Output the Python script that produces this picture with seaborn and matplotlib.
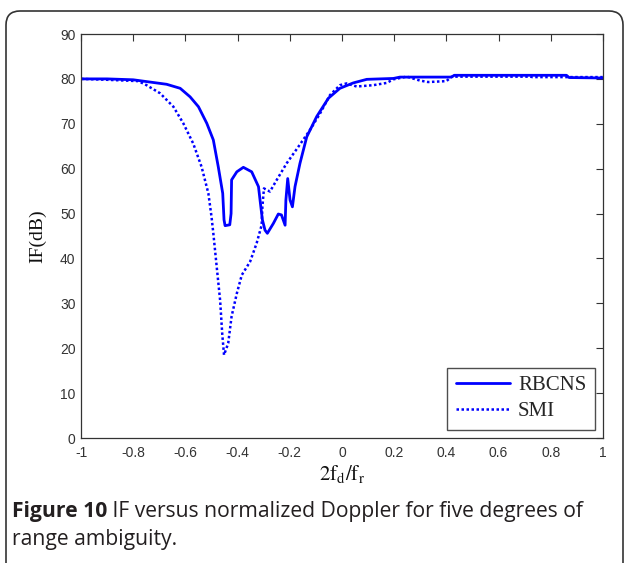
import numpy as np
import pandas as pd
import seaborn as sns
import matplotlib.pyplot as plt
from matplotlib.patches import FancyBboxPatch

sns.set_style("white")
plt.rcParams['font.family'] = ['Liberation Sans', 'DejaVu Sans']
plt.rcParams['mathtext.fontset'] = 'stix'

# RBCNS curve (solid)
rbcns_x = [-1.0, -0.9, -0.8, -0.749, -0.672, -0.62, -0.582, -0.55, -0.518,
           -0.493, -0.474, -0.457, -0.452, -0.448, -0.43, -0.425, -0.423,
           -0.403, -0.378, -0.346, -0.32, -0.314, -0.305, -0.295, -0.286,
           -0.263, -0.244, -0.232, -0.218, -0.215, -0.208, -0.199, -0.19,
           -0.18, -0.161, -0.135, -0.097, -0.052, -0.008, 0.043, 0.095,
           0.197, 0.222, 0.42, 0.43, 0.86, 0.87, 1.0]
rbcns_y = [80.0, 80.0, 79.8, 79.4, 78.8, 77.9, 76.0, 73.8, 70.1,
           66.4, 60.4, 54.5, 48.6, 47.3, 47.5, 50.0, 57.5,
           59.3, 60.3, 59.3, 56.0, 53.0, 48.6, 46.3, 45.6,
           47.8, 49.9, 49.7, 47.4, 53.0, 57.8, 53.0, 51.5,
           56.0, 61.2, 67.1, 71.6, 75.7, 77.9, 79.1, 79.9,
           80.1, 80.4, 80.4, 80.8, 80.8, 80.3, 80.2]

# SMI curve (dotted)
smi_x = [-1.0, -0.9, -0.78, -0.749, -0.697, -0.646, -0.608, -0.57, -0.538,
         -0.512, -0.5, -0.493, -0.48, -0.467, -0.459, -0.452, -0.436, -0.423,
         -0.403, -0.384, -0.352, -0.327, -0.308, -0.305, -0.299, -0.276,
         -0.25, -0.212, -0.167, -0.123, -0.084, -0.046, -0.008, 0.018, 0.056,
         0.12, 0.171, 0.197, 0.248, 0.30, 0.33, 0.40, 0.42, 0.72, 0.73, 1.0]
smi_y = [80.0, 79.8, 79.5, 78.6, 76.8, 73.8, 70.1, 65.6, 60.4,
         54.5, 49.3, 45.6, 38.1, 30.7, 23.3, 18.5, 21.1, 27.1,
         32.2, 36.3, 39.3, 43.4, 47.4, 51.5, 55.6, 54.9,
         57.5, 61.2, 64.9, 68.6, 72.3, 76.4, 78.6, 79.0, 78.3,
         78.6, 79.1, 79.9, 80.5, 79.6, 79.3, 79.5, 80.5, 80.5, 80.4, 80.4]

x_ticks = [-1, -0.8, -0.6, -0.4, -0.2, 0, 0.2, 0.4, 0.6, 0.8, 1]
x_tick_labels = ['-1', '-0.8', '-0.6', '-0.4', '-0.2', '0', '0.2', '0.4', '0.6', '0.8', '1']
y_ticks = list(range(0, 91, 10))

rbcns = pd.DataFrame({'x': rbcns_x, 'y': rbcns_y})
smi = pd.DataFrame({'x': smi_x, 'y': smi_y})

fig = plt.figure(figsize=(6.24, 5.63), dpi=100)
ax = fig.add_axes([81 / 624, 1 - 438 / 563, 522 / 624, 404 / 563])

sns.lineplot(data=rbcns, x='x', y='y', ax=ax, color='#0000ff', lw=2,
             sort=False, estimator=None, label='RBCNS')
sns.lineplot(data=smi, x='x', y='y', ax=ax, color='#0000ff', lw=1.8,
             linestyle=(0, (1, 1)), sort=False, estimator=None, label='SMI')

ax.set_xlim(-1, 1)
ax.set_ylim(0, 90)
ax.set_xticks(x_ticks)
ax.set_xticklabels(x_tick_labels)
ax.set_yticks(y_ticks)
ax.tick_params(direction='in', top=True, right=True, length=5, width=0.8,
               colors='#333333', labelsize=10)
ax.tick_params(axis='x', pad=6)
ax.tick_params(axis='y', pad=4)
for s in ax.spines.values():
    s.set_color('#333333')
    s.set_linewidth(0.9)

ax.set_ylabel('IF(dB)', family='Liberation Serif', fontsize=14, color='#111111',
              labelpad=10)
ax.set_xlabel(r'$\mathrm{2f_d/f_r}$', fontsize=15, color='#111111', labelpad=2)

leg = ax.legend(loc='lower right', prop={'family': 'Liberation Serif', 'size': 15},
                frameon=True, fancybox=False, edgecolor='#222222',
                borderaxespad=0.4, handlelength=2.6, handletextpad=0.4,
                labelspacing=0.3, borderpad=0.4)
leg.get_frame().set_linewidth(1.0)

# rounded border of the figure panel
border = FancyBboxPatch((0.06, -0.5), 6.17, 6.02,
                        boxstyle='round,pad=0,rounding_size=0.14',
                        transform=fig.dpi_scale_trans, fill=False,
                        edgecolor='#333333', lw=1.2)
fig.patches.append(border)

cap_font = ['Open Sans', 'DejaVu Sans']
t1 = fig.text(12 / 624, 1 - 517 / 563, 'Figure 10', family=cap_font,
              fontweight='bold', fontsize=15.2, color='#231f20', va='baseline')
ax.annotate(' IF versus normalized Doppler for five degrees of',
            xy=(1, 0), xycoords=t1, va='bottom', ha='left',
            family=cap_font, fontsize=15.2, color='#231f20',
            annotation_clip=False)
fig.text(12 / 624, 1 - 545 / 563, 'range ambiguity.', family=cap_font,
         fontsize=15.2, color='#231f20', va='baseline')

fig.savefig('out.png', dpi=100)
